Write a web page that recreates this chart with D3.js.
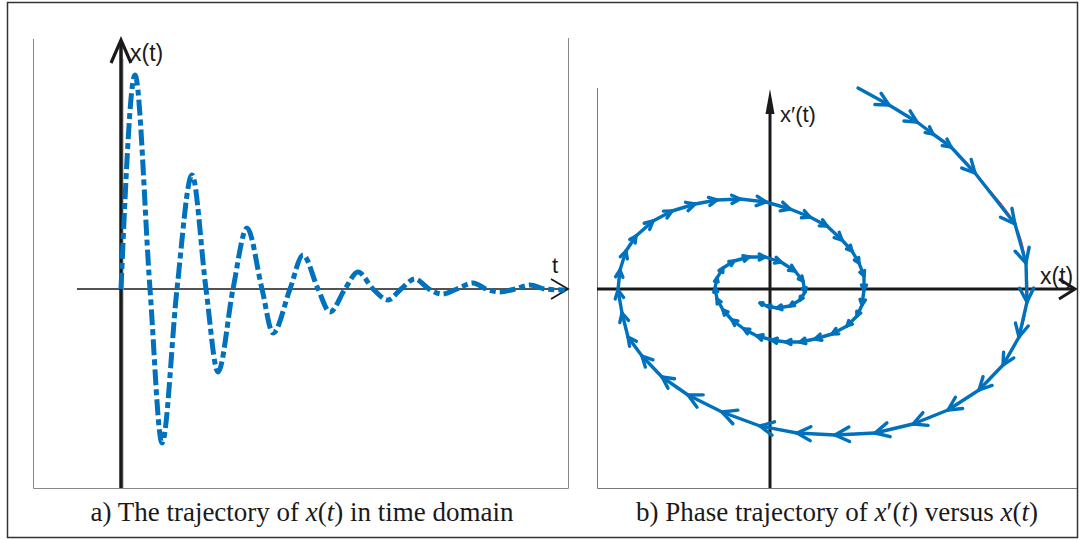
<!DOCTYPE html>
<html>
<head>
<meta charset="utf-8">
<script src="https://cdn.jsdelivr.net/npm/d3@7"></script>
<style>
  body { margin: 0; background: #fff; }
  text { fill: #1a1a1a; }
  .lbl { font-family: 'Liberation Sans', Arial, sans-serif; }
  .cap { font-family: 'Liberation Serif', 'Times New Roman', serif; }
</style>
</head>
<body>
<svg id="chart" width="1081" height="540"></svg>
<script>
// time domain samples: zero crossings, peaks and troughs //
const timeT = [0, 0.14, 0.29, 0.41, 0.56, 0.71, 0.85, 0.97, 1.12, 1.26, 1.41, 1.52, 1.69, 1.82,
  1.97, 2.09, 2.24, 2.37, 2.52, 2.67, 2.80, 2.94, 3.08, 3.21, 3.36, 3.52, 3.65, 3.79, 3.94, 4.09, 4.24, 4.44];
const timeX = [0, 2.14, 0, -1.54, 0, 1.14, 0, -0.83, 0, 0.61, 0, -0.44, 0, 0.34,
  0, -0.23, 0, 0.17, 0, -0.11, 0, 0.10, 0, -0.05, 0, 0.06, 0, -0.03, 0, 0.04, 0, -0.01];

// phase trajectory samples (quiver points), x(t) and x'(t) //
const phaseX = [0.88, 1.19, 1.47, 1.63, 1.81, 2.05, 2.45, 2.56, 2.57, 2.49, 2.33, 2.09, 1.78, 1.43,
  1.05, 0.65, 0.27, -0.10, -0.48, -0.82, -1.08, -1.28, -1.42, -1.48, -1.52, -1.50, -1.44, -1.34,
  -1.17, -0.98, -0.75, -0.53, -0.30, -0.04, 0.20, 0.40, 0.57, 0.72, 0.82, 0.89, 0.94, 0.94, 0.92,
  0.87, 0.77, 0.62, 0.45, 0.30, 0.16, 0.02, -0.13, -0.26, -0.38, -0.47, -0.53, -0.55, -0.53, -0.47,
  -0.36, -0.21, -0.05, 0.11, 0.25, 0.33, 0.35, 0.30, 0.20, 0.07, -0.03, -0.10];
const phaseV = [2.01, 1.84, 1.67, 1.55, 1.42, 1.16, 0.65, 0.26, -0.13, -0.48, -0.76, -1.01, -1.21, -1.35,
  -1.44, -1.46, -1.44, -1.37, -1.23, -1.06, -0.88, -0.67, -0.48, -0.24, -0.01, 0.19, 0.38, 0.53,
  0.68, 0.78, 0.85, 0.89, 0.90, 0.87, 0.80, 0.72, 0.63, 0.49, 0.38, 0.26, 0.13, -0.01, -0.16,
  -0.27, -0.37, -0.45, -0.50, -0.53, -0.53, -0.51, -0.47, -0.40, -0.31, -0.21, -0.10, 0.01, 0.11, 0.21,
  0.28, 0.32, 0.32, 0.27, 0.18, 0.08, -0.03, -0.11, -0.17, -0.19, -0.17, -0.14];

const blue = '#0072bd';
const ink = '#1a1a1a';
const svg = d3.select('#chart');

//outer frame and panel boxes//
svg.append('rect')
  .attr('x', 7.5).attr('y', 2.5).attr('width', 1070).attr('height', 535)
  .attr('fill', 'none').attr('stroke', '#333').attr('stroke-width', 1.5);

svg.append('path')
  .attr('d', 'M33.5,39V488.5H568.5V38')
  .attr('fill', 'none').attr('stroke', '#888').attr('stroke-width', 1);
svg.append('path')
  .attr('d', 'M597.5,88V488.5H1077')
  .attr('fill', 'none').attr('stroke', '#777').attr('stroke-width', 1);

// ---------- a) time domain ---------- //
const tScale = d3.scaleLinear().domain([-0.44, 4.47]).range([77, 568]);
const xScale = d3.scaleLinear().domain([-1.99, 2.49]).range([488, 40]);

const a = svg.append('g');

a.append('line')
  .attr('x1', tScale(-0.44)).attr('x2', tScale(4.47))
  .attr('y1', xScale(0)).attr('y2', xScale(0))
  .attr('stroke', ink).attr('stroke-width', 1.5);
a.append('line')
  .attr('x1', tScale(0) + 2).attr('x2', tScale(0) + 2)
  .attr('y1', xScale(-1.99)).attr('y2', xScale(2.3))
  .attr('stroke', '#bbb').attr('stroke-width', 1.5);
a.append('line')
  .attr('x1', tScale(0)).attr('x2', tScale(0))
  .attr('y1', xScale(-1.99)).attr('y2', xScale(2.48))
  .attr('stroke', ink).attr('stroke-width', 3.5);

// open chevron axis heads //
const tx = tScale(4.47), ty = xScale(0);
a.append('path')
  .attr('d', `M${tx - 17},${ty - 10}L${tx},${ty}L${tx - 17},${ty + 10}`)
  .attr('fill', 'none').attr('stroke', ink).attr('stroke-width', 1.8);
const vx = tScale(0), vy = xScale(2.49);
a.append('path')
  .attr('d', `M${vx - 10},${vy + 23}L${vx},${vy}L${vx + 10},${vy + 23}`)
  .attr('fill', 'none').attr('stroke', ink).attr('stroke-width', 3.2);

a.append('text').attr('class', 'lbl').attr('x', vx + 9).attr('y', vy + 21)
  .attr('font-size', 23).text('x(t)');
a.append('text').attr('class', 'lbl').attr('x', tx - 16).attr('y', ty - 16)
  .attr('font-size', 22).text('t');

const timeLine = d3.line()
  .x((d, i) => tScale(timeT[i]))
  .y((d, i) => xScale(timeX[i]))
  .curve(d3.curveMonotoneX);

a.append('path')
  .attr('d', timeLine(timeT))
  .attr('fill', 'none')
  .attr('stroke', blue)
  .attr('stroke-width', 5)
  .attr('stroke-dasharray', '16,4,6,4');

// ---------- b) phase plane ---------- //
const pxScale = d3.scaleLinear().domain([-1.73, 3.05]).range([597, 1075]);
const pyScale = d3.scaleLinear().domain([-1.99, 2.0]).range([488, 89]);

const b = svg.append('g');

b.append('line')
  .attr('x1', pxScale(-1.73)).attr('x2', pxScale(3.04))
  .attr('y1', pyScale(0)).attr('y2', pyScale(0))
  .attr('stroke', ink).attr('stroke-width', 3);
b.append('line')
  .attr('x1', pxScale(0)).attr('x2', pxScale(0))
  .attr('y1', pyScale(-1.99)).attr('y2', pyScale(1.8))
  .attr('stroke', ink).attr('stroke-width', 3);

const hx = pxScale(3.05), hy = pyScale(0);
b.append('path')
  .attr('d', `M${hx - 16},${hy - 10}L${hx},${hy}L${hx - 16},${hy + 10}`)
  .attr('fill', 'none').attr('stroke', ink).attr('stroke-width', 3);
const ux = pxScale(0), uy = pyScale(2.0);
b.append('path')
  .attr('d', `M${ux},${uy}L${ux + 4.5},${uy + 25}L${ux - 4.5},${uy + 25}Z`)
  .attr('fill', ink);

b.append('text').attr('class', 'lbl').attr('x', ux + 10).attr('y', uy + 33)
  .attr('font-size', 22).text('x\u2032(t)');
b.append('text').attr('class', 'lbl').attr('x', hx - 35).attr('y', hy - 5)
  .attr('font-size', 23).text('x(t)');

// thin red trajectory under the quiver //
const phaseLine = d3.line()
  .x((d, i) => pxScale(phaseX[i]))
  .y((d, i) => pyScale(phaseV[i]))
  .curve(d3.curveCatmullRom);

b.append('path')
  .attr('d', phaseLine(phaseX))
  .attr('fill', 'none').attr('stroke', '#ff2020').attr('stroke-width', 1);

// quiver: shaft from previous sample, head at current sample //
const segs = d3.range(1, phaseX.length).map((i) => {
  const x0 = pxScale(phaseX[i - 1]), y0 = pyScale(phaseV[i - 1]);
  const x1 = pxScale(phaseX[i]), y1 = pyScale(phaseV[i]);
  return { x0, y0, x1, y1 };
});

b.selectAll('.shaft').data(segs).join('line')
  .attr('class', 'shaft')
  .attr('x1', (d) => d.x0).attr('y1', (d) => d.y0)
  .attr('x2', (d) => d.x1).attr('y2', (d) => d.y1)
  .attr('stroke', blue).attr('stroke-width', 3.4).attr('stroke-linecap', 'round');

const spread = 27 * Math.PI / 180;
b.selectAll('.head').data(segs).join('path')
  .attr('class', 'head')
  .attr('d', (d) => {
    const ang = Math.atan2(d.y1 - d.y0, d.x1 - d.x0);
    const len = Math.hypot(d.x1 - d.x0, d.y1 - d.y0);
    const h = Math.min(0.4 * len, 16);
    const ax = d.x1 - h * Math.cos(ang - spread), ay = d.y1 - h * Math.sin(ang - spread);
    const bx = d.x1 - h * Math.cos(ang + spread), by = d.y1 - h * Math.sin(ang + spread);
    return `M${ax},${ay}L${d.x1},${d.y1}L${bx},${by}`;
  })
  .attr('fill', 'none').attr('stroke', blue).attr('stroke-width', 3.4)
  .attr('stroke-linecap', 'round').attr('stroke-linejoin', 'round');

//captions//
const cap = svg.append('g').attr('class', 'cap').attr('font-size', 27);

const capA = cap.append('text').attr('x', 302).attr('y', 521).attr('text-anchor', 'middle');
capA.append('tspan').text('a) The trajectory of ');
capA.append('tspan').attr('font-style', 'italic').text('x');
capA.append('tspan').text('(');
capA.append('tspan').attr('font-style', 'italic').text('t');
capA.append('tspan').text(') in time domain');

const capB = cap.append('text').attr('x', 837).attr('y', 521).attr('text-anchor', 'middle');
capB.append('tspan').text('b) Phase trajectory of ');
capB.append('tspan').attr('font-style', 'italic').text('x');
capB.append('tspan').text('\u2032(');
capB.append('tspan').attr('font-style', 'italic').text('t');
capB.append('tspan').text(') versus ');
capB.append('tspan').attr('font-style', 'italic').text('x');
capB.append('tspan').text('(');
capB.append('tspan').attr('font-style', 'italic').text('t');
capB.append('tspan').text(')');
</script>
</body>
</html>
